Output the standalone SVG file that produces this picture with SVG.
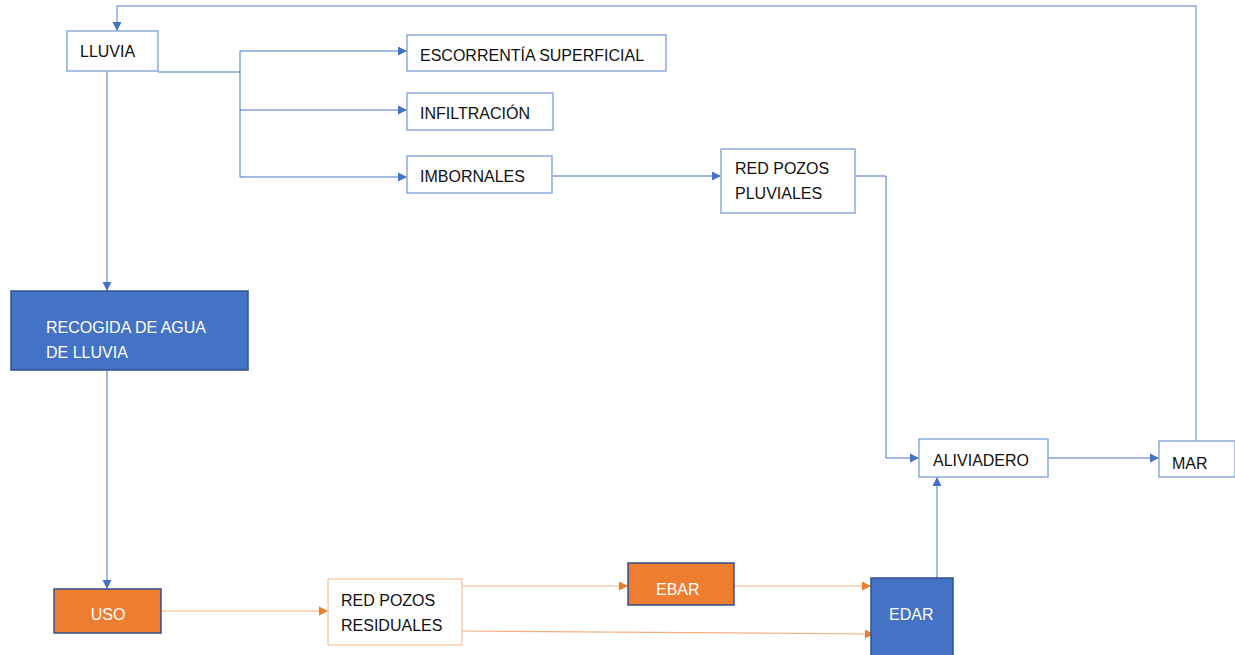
<svg xmlns="http://www.w3.org/2000/svg" width="1235" height="655" viewBox="0 0 1235 655">
<style>
.box{fill:#fff;stroke:#8FAADC;stroke-width:1.5}
.obox{fill:#fff;stroke:#F8CBAD;stroke-width:1.5}
.blue{fill:#4472C4;stroke:#2F528F;stroke-width:1.5}
.orange{fill:#ED7D31;stroke:#2F528F;stroke-width:1.5}
.t{font-family:"Liberation Sans",Arial,sans-serif;font-size:16px;fill:#111}
.w{font-family:"Liberation Sans",Arial,sans-serif;font-size:16px;fill:#fff}
.cb{fill:none;stroke:#4472C4;stroke-width:1}
.cb2{fill:none;stroke:#8FAADC;stroke-width:1.5}
.co{fill:none;stroke:#F4B183;stroke-width:1.2}
</style>
<defs>
<marker id="ab" markerUnits="userSpaceOnUse" markerWidth="10" markerHeight="10" refX="9" refY="5" orient="auto"><path d="M0,0.5 L9,5 L0,9.5 Z" fill="#4472C4"/></marker>
<marker id="ao" markerUnits="userSpaceOnUse" markerWidth="10" markerHeight="10" refX="9" refY="5" orient="auto"><path d="M0,0.5 L9,5 L0,9.5 Z" fill="#ED7D31"/></marker>
</defs>
<rect width="1235" height="655" fill="#fff"/>
<g id="connectors">
<polyline class="cb2" points="1196,441 1196,6 117,6 117,31" marker-end="url(#ab)"/>
<polyline class="cb" points="158,72 240,72"/>
<polyline class="cb" points="240,51 240,177"/>
<line class="cb" x1="240" y1="51" x2="407" y2="51" marker-end="url(#ab)"/>
<line class="cb" x1="240" y1="110" x2="407" y2="110" marker-end="url(#ab)"/>
<line class="cb" x1="240" y1="177" x2="407" y2="177" marker-end="url(#ab)"/>
<line class="cb" x1="553" y1="176" x2="721" y2="176" marker-end="url(#ab)"/>
<polyline class="cb" points="855,176 886,176 886,458 919,458" marker-end="url(#ab)"/>
<line class="cb" x1="1048" y1="458" x2="1159" y2="458" marker-end="url(#ab)"/>
<line class="cb" x1="107" y1="71" x2="107" y2="291" marker-end="url(#ab)"/>
<line class="cb" x1="107" y1="370" x2="107" y2="589" marker-end="url(#ab)"/>
<line class="cb" x1="937" y1="578" x2="937" y2="477" marker-end="url(#ab)"/>
<line class="co" x1="161" y1="611" x2="328" y2="611" marker-end="url(#ao)"/>
<line class="co" x1="462" y1="586" x2="628" y2="586" marker-end="url(#ao)"/>
<line class="co" x1="734" y1="586" x2="871" y2="586" marker-end="url(#ao)"/>
<line class="co" x1="462" y1="631" x2="874" y2="634" marker-end="url(#ao)"/>
</g>
<g id="lluvia"><rect class="box" x="67" y="31" width="91" height="40"/><text class="t" x="80" y="57">LLUVIA</text></g>
<g id="escorrentia"><rect class="box" x="407" y="35" width="259" height="36"/><text class="t" x="420" y="61">ESCORRENTÍA SUPERFICIAL</text></g>
<g id="infiltracion"><rect class="box" x="407" y="93" width="146" height="37"/><text class="t" x="420" y="119">INFILTRACIÓN</text></g>
<g id="imbornales"><rect class="box" x="407" y="156" width="145" height="37"/><text class="t" x="420" y="182">IMBORNALES</text></g>
<g id="red-pluviales"><rect class="box" x="721" y="149" width="134" height="64"/><text class="t" x="735" y="174">RED POZOS</text><text class="t" x="735" y="199">PLUVIALES</text></g>
<g id="recogida"><rect class="blue" x="11" y="291" width="237" height="79"/><text class="w" x="46" y="333">RECOGIDA DE AGUA</text><text class="w" x="46" y="358">DE LLUVIA</text></g>
<g id="uso"><rect class="orange" x="54" y="589" width="107" height="44"/><text class="w" x="108" y="620" text-anchor="middle">USO</text></g>
<g id="red-residuales"><rect class="obox" x="328" y="579" width="134" height="66"/><text class="t" x="341" y="606">RED POZOS</text><text class="t" x="341" y="631">RESIDUALES</text></g>
<g id="ebar"><rect class="orange" x="628" y="563" width="106" height="42"/><text class="w" x="656" y="595">EBAR</text></g>
<g id="edar"><rect class="blue" x="871" y="578" width="82" height="80"/><text class="w" x="889" y="620">EDAR</text></g>
<g id="aliviadero"><rect class="box" x="919" y="439" width="129" height="38"/><text class="t" x="933" y="466">ALIVIADERO</text></g>
<g id="mar"><rect class="box" x="1159" y="441" width="76" height="36"/><text class="t" x="1172" y="469">MAR</text></g>
</svg>
